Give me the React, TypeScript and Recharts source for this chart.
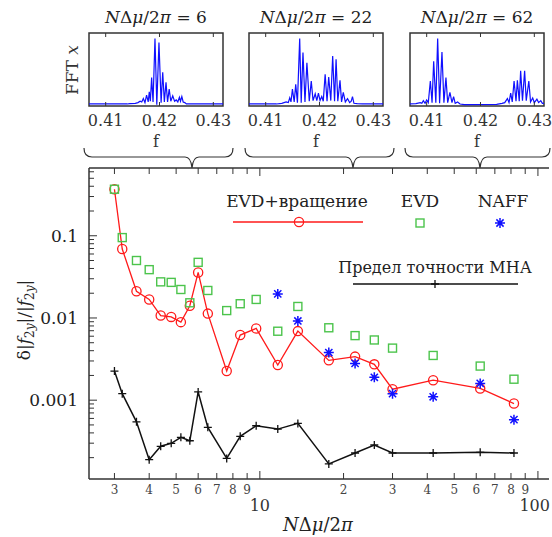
import React from "react";
import { ComposedChart, LineChart, Line, XAxis, YAxis, ReferenceArea } from "recharts";

const FONT = "'DejaVu Serif', serif";
const AXIS = "#333";

// main chart: N*dmu/2pi values and the four series
const nValues = [3, 3.2, 3.6, 4, 4.4, 4.8, 5.2, 5.6, 6, 6.5, 7.6, 8.5, 9.7, 11.6, 13.7, 17.7, 22, 25.8, 30, 42, 62, 82];
const evdRotation = [0.368, 0.069, 0.0211, 0.0168, 0.0107, 0.0103, 0.0089, 0.0141, 0.0358, 0.0113, 0.00226, 0.0062, 0.00746, 0.00268, 0.00692, 0.00305, 0.00339, 0.00273, 0.00136, 0.00175, 0.00139, 0.00091];
const evdOnly = [0.368, 0.095, 0.05, 0.0387, 0.0275, 0.0271, 0.0222, 0.0153, 0.0475, 0.0216, 0.0123, 0.0149, 0.0168, 0.0069, 0.0138, 0.0076, 0.0061, 0.0054, 0.0043, 0.0035, 0.0026, 0.0018];
const naff = [null, null, null, null, null, null, null, null, null, null, null, null, null, 0.0196, 0.0092, 0.0038, 0.0028, 0.0019, 0.0012, 0.0011, 0.0016, 0.00058];
const mhaLimit = [0.00226, 0.0012, 0.000546, 0.000189, 0.000275, 0.000299, 0.000353, 0.000321, 0.00126, 0.000467, 0.000196, 0.000363, 0.000489, 0.000445, 0.000522, 0.000168, 0.000228, 0.000285, 0.000228, 0.000228, 0.000232, 0.000228];

const xTicks = [3, 4, 5, 6, 7, 8, 9, 10, 20, 30, 40, 50, 60, 70, 80, 90, 100];
const xTickLabels = ["3", "4", "5", "6", "7", "8", "9", "10", "2", "3", "4", "5", "6", "7", "8", "9", "100"];
const yTicks = [
  0.0002, 0.0003, 0.0004, 0.0005, 0.0006, 0.0007, 0.0008, 0.0009,
  0.001, 0.002, 0.003, 0.004, 0.005, 0.006, 0.007, 0.008, 0.009,
  0.01, 0.02, 0.03, 0.04, 0.05, 0.06, 0.07, 0.08, 0.09,
  0.1, 0.2, 0.3, 0.4, 0.5, 0.6,
];
const yMajor = [0.001, 0.01, 0.1];
const yMajorLabels = ["0.001", "0.01", "0.1"];

// FFT spectra [f, amplitude] for the three small panels
const fft6 = [
  [0.4069, 0.03], [0.414, 0.03], [0.4145, 0.035], [0.4155, 0.04], [0.416, 0.05], [0.4164, 0.07], [0.4167, 0.06],
  [0.417, 0.11], [0.4173, 0.05], [0.4176, 0.16], [0.4179, 0.06], [0.4181, 0.21], [0.4183, 0.07], [0.41854, 0.42],
  [0.4188, 0.06], [0.41916, 1.0], [0.4195, 0.02], [0.4199, 0.94], [0.4203, 0.05], [0.4206, 0.5], [0.4209, 0.06],
  [0.42121, 0.35], [0.4215, 0.06], [0.4218, 0.25], [0.4221, 0.07], [0.42246, 0.15], [0.4228, 0.07], [0.4231, 0.09],
  [0.4234, 0.06], [0.4237, 0.13], [0.4239, 0.07], [0.42415, 0.14], [0.4244, 0.06], [0.4247, 0.05], [0.425, 0.03],
  [0.426, 0.03], [0.4318, 0.03],
];
const fft22 = [
  [0.4069, 0.03], [0.412, 0.03], [0.413, 0.04], [0.4138, 0.06], [0.4142, 0.05], [0.41447, 0.12], [0.4147, 0.06],
  [0.41497, 0.25], [0.4153, 0.06], [0.41558, 0.32], [0.4159, 0.05], [0.41632, 1.0], [0.4166, 0.05], [0.41693, 0.79],
  [0.4173, 0.06], [0.41766, 0.64], [0.4181, 0.07], [0.41847, 0.37], [0.4188, 0.08], [0.4192, 0.18], [0.4195, 0.08],
  [0.4198, 0.19], [0.4201, 0.08], [0.42042, 0.14], [0.4207, 0.07], [0.42105, 0.47], [0.4214, 0.07], [0.42171, 0.43],
  [0.4221, 0.08], [0.42245, 0.74], [0.4228, 0.07], [0.42308, 0.69], [0.4234, 0.07], [0.42381, 0.38], [0.4241, 0.06],
  [0.42442, 0.2], [0.4248, 0.06], [0.42521, 0.11], [0.4256, 0.05], [0.4259, 0.07], [0.42613, 0.14], [0.4264, 0.04],
  [0.427, 0.035], [0.428, 0.03], [0.4318, 0.03],
];
const fft62 = [
  [0.4069, 0.03], [0.408, 0.035], [0.4088, 0.05], [0.4091, 0.04], [0.40938, 0.08], [0.4097, 0.04], [0.41, 0.09],
  [0.4103, 0.05], [0.41068, 0.37], [0.411, 0.05], [0.4113, 0.66], [0.4117, 0.05], [0.41204, 1.0], [0.4124, 0.04],
  [0.41284, 0.8], [0.4132, 0.05], [0.41358, 0.42], [0.4139, 0.05], [0.41432, 0.2], [0.4147, 0.05], [0.415, 0.14],
  [0.4153, 0.04], [0.41574, 0.06], [0.4162, 0.03], [0.417, 0.02], [0.423, 0.025], [0.424, 0.04], [0.4245, 0.05],
  [0.425, 0.11], [0.4253, 0.05], [0.42561, 0.19], [0.4259, 0.06], [0.42624, 0.37], [0.4266, 0.07], [0.42685, 0.38],
  [0.4272, 0.07], [0.42746, 0.52], [0.4278, 0.08], [0.4282, 0.52], [0.4285, 0.08], [0.42898, 0.37], [0.4293, 0.06],
  [0.4297, 0.12], [0.43, 0.05], [0.43048, 0.1], [0.4308, 0.05], [0.4312, 0.08], [0.4315, 0.04], [0.4318, 0.04],
];
const panelTitles = ["6", "22", "62"];
const fTicks = [0.41, 0.42, 0.43];

const mainData = nValues.map((n, i) => ({
  n,
  rot: evdRotation[i],
  evd: evdOnly[i],
  naff: naff[i],
  mha: mhaLimit[i],
}));

const X_DOMAIN = [2.43, 109.6];
const Y_DOMAIN = [1.1e-4, 0.667];
const F_DOMAIN = [0.4069, 0.4318];

const RED = "#ff1a1a";
const GREEN = "#4cc44c";
const BLUE = "#1010ff";
const BLACK = "#111";

const Circle = (p: any) =>
  p.cy == null ? <g key={p.key} /> : (
    <circle key={p.key} cx={p.cx} cy={p.cy} r={4.6} fill="none" stroke={RED} strokeWidth={1.3} />
  );
const Square = (p: any) =>
  p.cy == null ? <g key={p.key} /> : (
    <rect key={p.key} x={p.cx - 4} y={p.cy - 4} width={8} height={8} fill="none" stroke={GREEN} strokeWidth={1.4} />
  );
const starPath = (cx: number, cy: number, r: number) => {
  const d = r * 0.72;
  return `M${cx} ${cy - r}L${cx} ${cy + r}M${cx - r} ${cy}L${cx + r} ${cy}M${cx - d} ${cy - d}L${cx + d} ${cy + d}M${cx - d} ${cy + d}L${cx + d} ${cy - d}`;
};
const Star = (p: any) =>
  p.cy == null ? <g key={p.key} /> : <path key={p.key} d={starPath(p.cx, p.cy, 5)} stroke={BLUE} strokeWidth={1.5} />;
const plusPath = (cx: number, cy: number, r: number) => `M${cx - r} ${cy}L${cx + r} ${cy}M${cx} ${cy - r}L${cx} ${cy + r}`;
const Plus = (p: any) =>
  p.cy == null ? <g key={p.key} /> : <path key={p.key} d={plusPath(p.cx, p.cy, 4)} stroke={BLACK} strokeWidth={1.3} />;

const BottomTick = (p: any) => {
  const v = p.payload.value;
  const i = xTicks.indexOf(v);
  const major = v === 10 || v === 100;
  return (
    <g>
      <line x1={p.x} y1={p.y} x2={p.x} y2={p.y - (major ? 8 : 6)} stroke={AXIS} />
      {major ? (
        <text x={v === 100 ? p.x + 12 : p.x} y={p.y + 32} textAnchor={v === 100 ? "end" : "middle"} fontSize={16}
          fontFamily={FONT} fill="#333">
          {xTickLabels[i]}
        </text>
      ) : (
        <text x={p.x} y={p.y + 15} textAnchor="middle" fontSize={12} fontFamily={FONT} fill="#444">
          {xTickLabels[i]}
        </text>
      )}
    </g>
  );
};
const TopTick = (p: any) => {
  const major = p.payload.value === 10 || p.payload.value === 100;
  return <line x1={p.x} y1={p.y} x2={p.x} y2={p.y + (major ? 8 : 6)} stroke={AXIS} />;
};
const LeftTick = (p: any) => {
  const v = p.payload.value;
  const i = yMajor.indexOf(v);
  return (
    <g>
      <line x1={p.x} y1={p.y} x2={p.x + (i >= 0 ? 8 : 5)} y2={p.y} stroke={AXIS} />
      {i >= 0 && (
        <text x={p.x - 11} y={p.y + 6} textAnchor="end" fontSize={17} fontFamily={FONT} fill="#222">
          {yMajorLabels[i]}
        </text>
      )}
    </g>
  );
};
const RightTick = (p: any) => {
  const major = yMajor.indexOf(p.payload.value) >= 0;
  return <line x1={p.x} y1={p.y} x2={p.x - (major ? 8 : 5)} y2={p.y} stroke={AXIS} />;
};

const FBottomTick = (p: any) => (
  <g>
    <line x1={p.x} y1={p.y} x2={p.x} y2={p.y - 4} stroke={AXIS} />
    <text x={p.x} y={p.y + 20} textAnchor="middle" fontSize={16} fontFamily={FONT} fill="#333">
      {p.payload.value.toFixed(2)}
    </text>
  </g>
);
const FTopTick = (p: any) => <line x1={p.x} y1={p.y} x2={p.x} y2={p.y + 4} stroke={AXIS} />;

function FftPanel({ data, left }: { data: number[][]; left: number }) {
  const rows = data.map(([f, a]) => ({ f, a }));
  return (
    <div style={{ position: "absolute", left: left - 30, top: 0 }}>
      <LineChart width={194} height={150} data={rows} margin={{ top: 32, right: 30, bottom: 0, left: 30 }}>
        <XAxis dataKey="f" type="number" domain={F_DOMAIN} allowDataOverflow ticks={fTicks} interval={0}
          tick={<FBottomTick />} tickSize={0} tickMargin={0} tickLine={false} axisLine={false} height={44} />
        <XAxis xAxisId="top" orientation="top" dataKey="f" type="number" domain={F_DOMAIN} allowDataOverflow ticks={fTicks}
          interval={0} tick={<FTopTick />} tickSize={0} tickMargin={0} tickLine={false} axisLine={false} height={1} />
        <YAxis type="number" domain={[0, 1.08]} hide allowDataOverflow />
        <ReferenceArea x1={F_DOMAIN[0]} x2={F_DOMAIN[1]} y1={0} y2={1.08} fill="none" stroke={AXIS} strokeWidth={1.5} />
        <Line dataKey="a" type="linear" stroke={BLUE} strokeWidth={1.2} dot={false} isAnimationActive={false} />
      </LineChart>
    </div>
  );
}

const panelLefts = [89, 249, 410];
const panelData = [fft6, fft22, fft62];
const braces = [
  { a: 84, b: 233, tip: 192 },
  { a: 245, b: 394, tip: 353 },
  { a: 405, b: 550, tip: 480 },
];
const bracePath = ({ a, b, tip }: { a: number; b: number; tip: number }) =>
  `M${a} 148Q${a} 157 ${a + 8} 157L${tip - 7} 157Q${tip - 1} 157 ${tip} 168Q${tip + 1} 157 ${tip + 7} 157L${b - 8} 157Q${b} 157 ${b} 148`;

export default function App() {
  return (
    <div style={{ position: "absolute", left: 0, top: 0, width: 552, height: 537, overflow: "hidden", background: "#fff", fontFamily: FONT }}>
      <div style={{ position: "absolute", left: 0, top: 0 }}>
        <ComposedChart width={552} height={537} data={mainData} margin={{ top: 167, right: 3, bottom: 28, left: 39 }}>
          <XAxis dataKey="n" type="number" scale="log" domain={X_DOMAIN} allowDataOverflow ticks={xTicks} interval={0}
            tick={<BottomTick />} tickSize={0} tickMargin={0} tickLine={false} axisLine={{ stroke: AXIS, strokeWidth: 1.5 }} height={30} />
          <XAxis xAxisId="top" orientation="top" dataKey="n" type="number" scale="log" domain={X_DOMAIN} allowDataOverflow
            ticks={xTicks} interval={0} tick={<TopTick />} tickSize={0} tickMargin={0} tickLine={false}
            axisLine={{ stroke: AXIS, strokeWidth: 1.5 }} height={1} />
          <YAxis type="number" scale="log" domain={Y_DOMAIN} allowDataOverflow ticks={yTicks} interval={0}
            tick={<LeftTick />} tickSize={0} tickMargin={0} tickLine={false} axisLine={{ stroke: AXIS, strokeWidth: 1.5 }} width={50} />
          <YAxis yAxisId="right" orientation="right" type="number" scale="log" domain={Y_DOMAIN} allowDataOverflow ticks={yTicks}
            interval={0} tick={<RightTick />} tickSize={0} tickMargin={0} tickLine={false}
            axisLine={{ stroke: AXIS, strokeWidth: 1.5 }} width={0} />
          <Line dataKey="mha" stroke={BLACK} strokeWidth={1.5} dot={Plus} isAnimationActive={false} />
          <Line dataKey="rot" stroke={RED} strokeWidth={1.3} dot={Circle} isAnimationActive={false} />
          <Line dataKey="evd" stroke="none" dot={Square} isAnimationActive={false} />
          <Line dataKey="naff" stroke="none" dot={Star} isAnimationActive={false} />
        </ComposedChart>
      </div>

      {panelData.map((d, i) => (
        <FftPanel key={i} data={d} left={panelLefts[i]} />
      ))}

      <svg width={552} height={537} style={{ position: "absolute", left: 0, top: 0, pointerEvents: "none" }} fontFamily={FONT}>
        {panelLefts.map((l, i) => (
          <g key={i}>
            <text x={l + 67} y={23} textAnchor="middle" fontSize={17} fill="#222">
              <tspan fontStyle="italic">N</tspan>Δ<tspan fontStyle="italic">μ</tspan>/2<tspan fontStyle="italic">π</tspan> = {panelTitles[i]}
            </text>
            <text x={l + 67} y={147} textAnchor="middle" fontSize={16} fill="#333">f</text>
          </g>
        ))}
        <text transform="translate(78,70) rotate(-90)" textAnchor="middle" fontSize={17} fill="#333">
          FFT <tspan fontStyle="italic">x</tspan>
        </text>
        {braces.map((b, i) => (
          <path key={i} d={bracePath(b)} fill="none" stroke="#333" strokeWidth={1.2} />
        ))}

        {/* legend */}
        <text x={297} y={207} textAnchor="middle" fontSize={17} fill="#222">EVD+вращение</text>
        <line x1={233} y1={222} x2={363} y2={222} stroke={RED} strokeWidth={1.3} />
        <circle cx={299} cy={222} r={4.6} fill="none" stroke={RED} strokeWidth={1.3} />
        <text x={420} y={207} textAnchor="middle" fontSize={17} fill="#222">EVD</text>
        <rect x={416} y={219} width={8} height={8} fill="none" stroke={GREEN} strokeWidth={1.4} />
        <text x={503} y={207} textAnchor="middle" fontSize={17} fill="#222">NAFF</text>
        <path d={starPath(500, 223, 5)} stroke={BLUE} strokeWidth={1.5} />
        <text x={435} y={273} textAnchor="middle" fontSize={16} fill="#222">Предел точности МНА</text>
        <line x1={353} y1={284} x2={518} y2={284} stroke={BLACK} strokeWidth={1.5} />
        <path d={plusPath(435, 284, 4)} stroke={BLACK} strokeWidth={1.3} />

        {/* axis titles */}
        <text x={318} y={531} textAnchor="middle" fontSize={18} fill="#222">
          <tspan fontStyle="italic">N</tspan>Δ<tspan fontStyle="italic">μ</tspan>/2<tspan fontStyle="italic">π</tspan>
        </text>
        <text transform="translate(30,320) rotate(-90)" textAnchor="middle" fontSize={17} fill="#222">
          δ|<tspan fontStyle="italic">f</tspan>
          <tspan fontSize={12} dy={4}>2<tspan fontStyle="italic">y</tspan></tspan>
          <tspan dy={-4}>|/|</tspan>
          <tspan fontStyle="italic">f</tspan>
          <tspan fontSize={12} dy={4}>2<tspan fontStyle="italic">y</tspan></tspan>
          <tspan dy={-4}>|</tspan>
        </text>
      </svg>
    </div>
  );
}
